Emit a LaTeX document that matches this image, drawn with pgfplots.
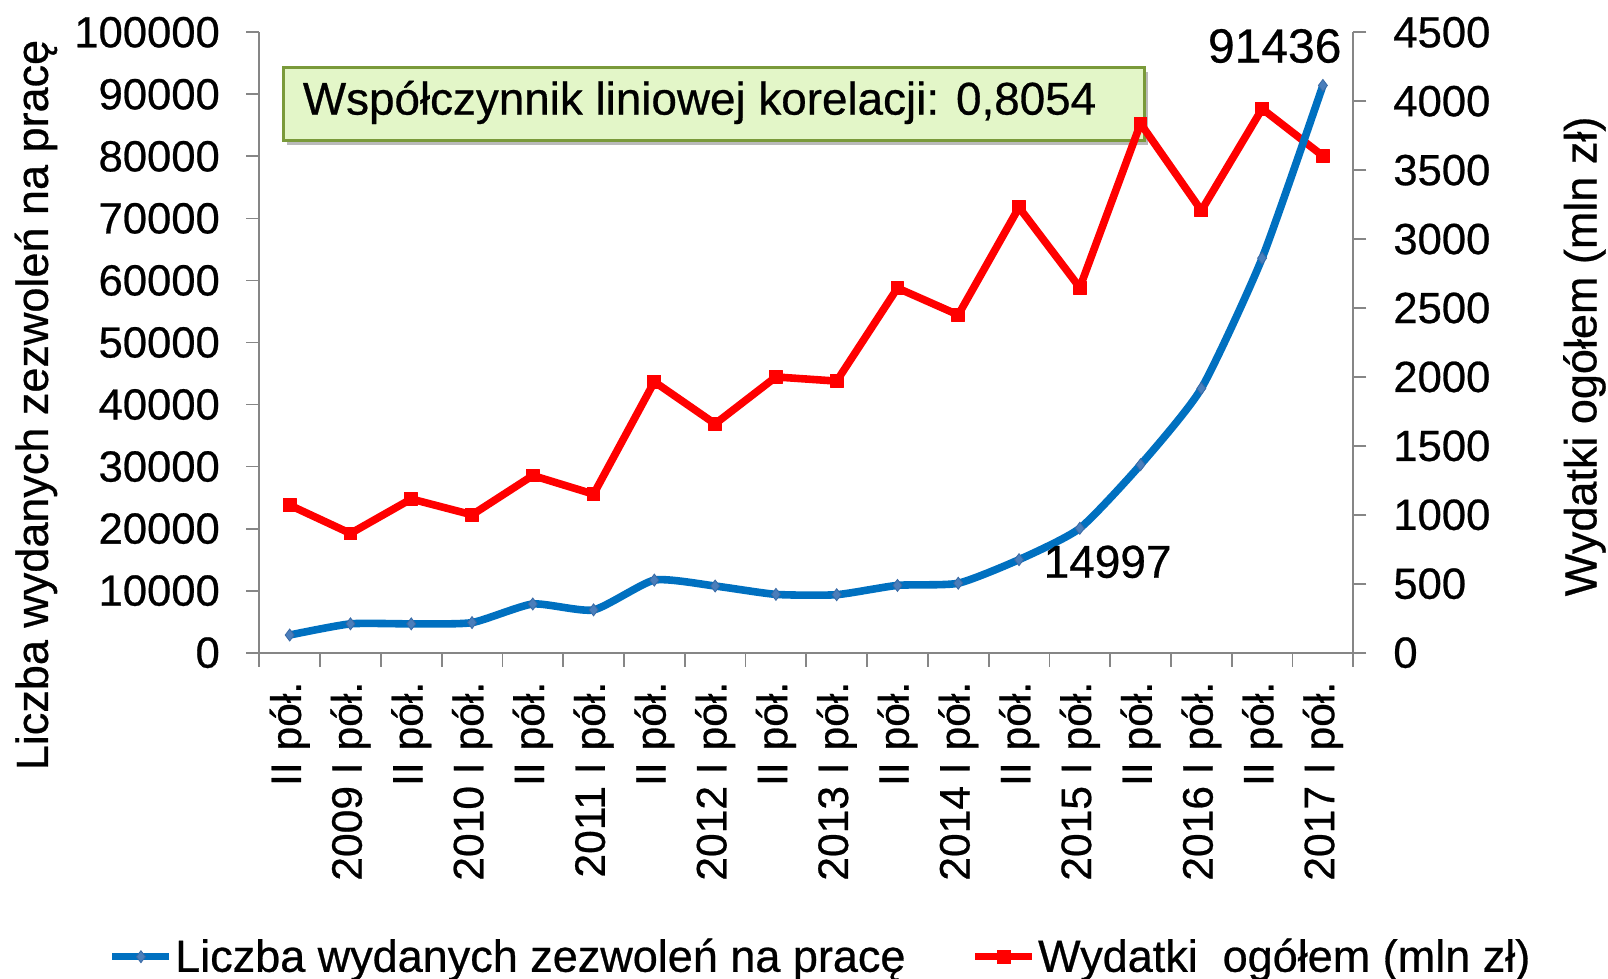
\documentclass[border=0pt]{standalone}
\usepackage{pgfplots}
\pgfplotsset{compat=1.18}
\usepackage{pgfplotstable}
\usepackage{fontspec}
\setmainfont{Liberation Sans}[FakeBold=0.6]
\usetikzlibrary{shadows}
\definecolor{axgray}{HTML}{868686}
\definecolor{bline}{HTML}{0070C0}
\definecolor{bmark}{HTML}{4A7EBB}
\definecolor{bmarkdraw}{HTML}{3A6AA5}
\definecolor{rline}{HTML}{FF0000}
\definecolor{boxfill}{HTML}{E3F6C8}
\definecolor{boxdraw}{HTML}{7A9A3A}

\pgfplotstableread{
x blue red
0 2850 1070
1 4650 865
2 4650 1115
3 4850 1000
4 7850 1285
5 6900 1150
6 11700 1965
7 10750 1660
8 9400 2000
9 9350 1970
10 10850 2645
11 11200 2450
12 14997 3230
13 20050 2648
14 30300 3838
15 42600 3207
16 63600 3945
17 91436 3603
}\data

\begin{document}
\begin{tikzpicture}
\useasboundingbox (0,0) rectangle (804pt,489.5pt);
\node[draw=boxdraw, line width=1.3pt, fill=boxfill, minimum width=430.5pt, minimum height=36.5pt, anchor=north west, inner sep=0pt,
  drop shadow={shadow xshift=2pt, shadow yshift=-2.5pt, opacity=0.45, fill=black!60}] at (141pt,456.5pt) {};
\node[anchor=west, inner sep=0pt, font=\fontsize{22.9}{26}\selectfont] at (151.25pt,438.25pt) {Współczynnik liniowej korelacji: 0,8054};

\pgfplotsset{common/.style={
  at={(129.65pt,163.15pt)}, anchor=south west,
  width=547pt, height=310.2pt, scale only axis,
  xmin=-0.5, xmax=17.5,
  tick align=outside,
  axis line style={axgray, line width=0.9pt},
  tick style={axgray, line width=0.9pt},
  major tick length=6.5pt,
  scaled y ticks=false,
  clip=false,
}}

\begin{axis}[common,
  hide x axis,
  axis y line*=right,
  ymin=0, ymax=4500,
  ytick={0,500,...,4500},
  yticklabels={0,500,1000,1500,2000,2500,3000,3500,4000,4500},
  yticklabel style={font=\fontsize{21.8}{24}\selectfont, xshift=10pt},
  every axis y label/.style={at={(axis description cs:1.2113,0.4776)}, rotate=90, anchor=center, font=\fontsize{22.5}{26}\selectfont},
  ylabel={Wydatki ogółem (mln zł)},
]
\addplot[rline, line width=3.8pt, line join=round, mark=square*, mark size=3.2pt, mark options={solid, line width=0.5pt}] table[x=x,y=red]{\data};
\end{axis}

\begin{axis}[common,
  axis x line*=bottom,
  axis y line*=left,
  ymin=0, ymax=100000,
  ytick={0,10000,...,100000},
  yticklabels={0,10000,20000,30000,40000,50000,60000,70000,80000,90000,100000},
  yticklabel style={font=\fontsize{21.8}{24}\selectfont, xshift=-9.7pt},
  xtick={0,...,17},
  xticklabels={II pół., 2009 I pół., II pół., 2010 I pół., II pół., 2011 I pół., II pół., 2012 I pół., II pół., 2013 I pół., II pół., 2014 I pół., II pół., 2015 I pół., II pół., 2016 I pół., II pół., 2017 I pół.},
  minor xtick={-0.5,0.5,...,17.5},
  minor tick length=7pt,
  major x tick style={draw=none},
  xticklabel style={yshift=-4.5pt, rotate=90, anchor=east, font=\fontsize{21.3}{24}\selectfont},
  every axis y label/.style={at={(axis description cs:-0.2041,0.3993)}, rotate=90, anchor=center, font=\fontsize{22.5}{26}\selectfont},
  ylabel={Liczba wydanych zezwoleń na pracę},
  legend style={at={(0.513,-0.49)}, anchor=center, draw=none, fill=none, legend columns=2,
    font=\fontsize{22.5}{26}\selectfont, nodes={inner sep=1pt},
    /tikz/every even column/.append style={column sep=32pt}},
  legend cell align=left,
  legend image code/.code={\draw[mark repeat=2, mark phase=2] plot coordinates {(0cm,0cm) (0.5cm,0cm) (1cm,0cm)};},
]
\addplot[bline, line width=3.8pt, smooth, tension=0.35, mark=diamond*, mark size=3pt, mark options={fill=bmark, draw=bmarkdraw, line width=0.4pt}] table[x=x,y=blue]{\data};
\addlegendentry{Liczba wydanych zezwoleń na pracę}
\addlegendimage{rline, line width=3.8pt, mark=square*, mark size=3.2pt, mark options={solid, line width=0.5pt}}
\addlegendentry{Wydatki~ ogółem (mln zł)}
\node[font=\fontsize{24}{28}\selectfont, xshift=-24.1pt, yshift=19.7pt] at (axis cs:17,91436) {91436};
\node[font=\fontsize{23}{27}\selectfont, xshift=44.3pt, yshift=-1.1pt] at (axis cs:12,14997) {14997};
\end{axis}
\end{tikzpicture}
\end{document}
